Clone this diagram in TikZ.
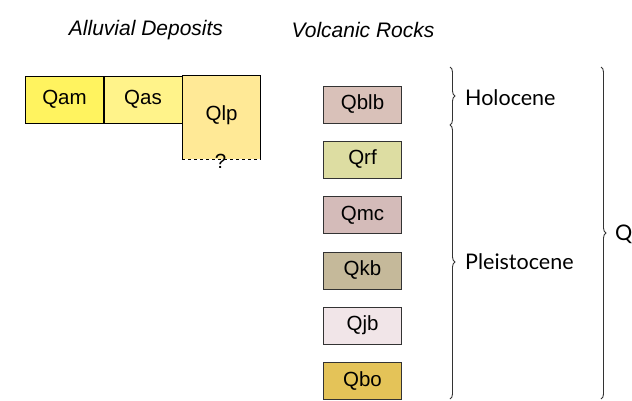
\documentclass[tikz,border=0pt]{standalone}
\usepackage{fontspec}
\setmainfont{Liberation Sans}
\newfontfamily\epochfont{Lato}
\usetikzlibrary{decorations.pathreplacing}
\definecolor{cQam}{HTML}{FFF35F}
\definecolor{cQas}{HTML}{FFF38A}
\definecolor{cQlp}{HTML}{FFE996}
\definecolor{cQblb}{HTML}{D9C1B9}
\definecolor{cQrf}{HTML}{DDDDA2}
\definecolor{cQmc}{HTML}{D4BBB9}
\definecolor{cQkb}{HTML}{C5B99A}
\definecolor{cQjb}{HTML}{F1E5E8}
\definecolor{cQbo}{HTML}{E4C358}
\definecolor{edge}{HTML}{333333}
\tikzset{
  unitbox/.style={draw=black, line width=0.9pt, minimum width=78pt, minimum height=47pt, inner sep=0pt, font=\fontsize{20.5}{23}\selectfont},
  volcbox/.style={draw=edge, line width=0.9pt, minimum width=78pt, minimum height=37pt, inner sep=0pt, font=\fontsize{20.5}{23}\selectfont},
  heading/.style={font=\fontsize{21}{24}\selectfont\itshape},
  epoch/.style={font=\fontsize{21.5}{24}\selectfont\epochfont, anchor=west, inner sep=0pt},
  bracestyle/.style={draw=edge, line width=0.9pt, decorate, decoration={brace, amplitude=5pt}}
}
\begin{document}
\begin{tikzpicture}[x=1pt,y=-1pt]
\useasboundingbox (0,0) rectangle (632,400);
\clip (0,0) rectangle (632,400);
% headings
\node[heading] (hall) at (146,30) {Alluvial Deposits};
\node[heading] (hvol) at (363,30) {Volcanic Rocks};
% alluvial boxes
\node[unitbox, fill=cQam] (qam) at (64.5,99.5) {Qam};
\node[unitbox, fill=cQas] (qas) at (143,99.5) {Qas};
\node[fill=cQlp, minimum width=78pt, minimum height=83pt, inner sep=0pt] (qlp) at (221.5,117.5) {};
\node[font=\fontsize{20.5}{23}\selectfont] (qlptext) at (221.5,115) {Qlp};
\draw[black, line width=0.9pt] (qlp.south west) -- (qlp.north west) -- (qlp.north east) -- (qlp.south east);
\draw[black, line width=0.9pt, dashed, dash pattern=on 3pt off 3pt] (qlp.south west) -- (qlp.south east);
\node[font=\fontsize{20.5}{23}\selectfont, inner sep=0pt] (qmark) at (220.5,161) {?};
% volcanic boxes
\node[volcbox, fill=cQblb] (qblb) at (362.5,104.5) {Qblb};
\node[volcbox, fill=cQrf] (qrf) at (362.5,159.5) {Qrf};
\node[volcbox, fill=cQmc] (qmc) at (362.5,215) {Qmc};
\node[volcbox, fill=cQkb] (qkb) at (362.5,270.5) {Qkb};
\node[volcbox, fill=cQjb] (qjb) at (362.5,325.5) {Qjb};
\node[volcbox, fill=cQbo] (qbo) at (362.5,381) {Qbo};
% braces
\coordinate (hTop) at (450,67);
\coordinate (hBot) at (450,125);
\coordinate (pBot) at (450,399);
\coordinate (qTop) at (601,67);
\coordinate (qBot) at (601,399);
\draw[bracestyle] (hTop) -- (hBot);
\draw[bracestyle] (hBot) -- (pBot);
\draw[bracestyle] (qTop) -- (qBot);
\node[epoch] (holo) at (465,98) {Holocene};
\node[epoch] (pleis) at (465,262) {Pleistocene};
\node[epoch] (quat) at (615,235) {Quaternary};
\end{tikzpicture}
\end{document}
